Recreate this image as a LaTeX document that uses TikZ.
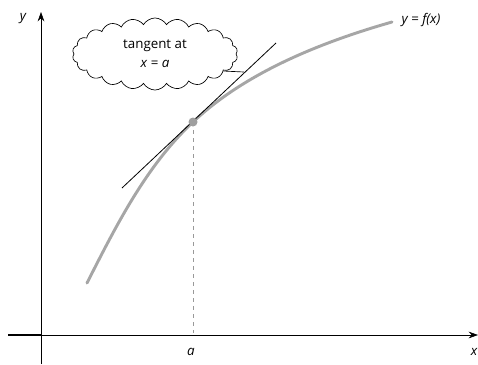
\documentclass[tikz,border=0pt]{standalone}
\usepackage{fontspec}
\setmainfont{Open Sans}
\usetikzlibrary{arrows.meta, shapes.symbols, positioning}

\begin{document}
\begin{tikzpicture}[x=0.75pt, y=-0.75pt,
  axis/.style={line width=0.5pt, -{Stealth[length=7pt, width=5pt]}},
  curve/.style={line width=2.2pt, draw=gray!70, line cap=round},
  tangentline/.style={line width=0.6pt},
  guide/.style={gray!80, dashed, line width=0.4pt},
  lbl/.style={font=\normalsize\itshape, inner sep=1pt},
  bubble/.style={cloud, cloud puffs=22, cloud puff arc=120, cloud ignores aspect, draw, line width=0.5pt, align=center, font=\normalsize, inner sep=-2pt, minimum width=124pt, minimum height=54pt}
]
\useasboundingbox (0,0) rectangle (478,364);
% axes
\coordinate (xstart) at (8,335);
\coordinate (xend) at (478,335);
\coordinate (ystart) at (41,364);
\coordinate (yend) at (41,12);
\coordinate (origin) at (41,335);
\draw[axis] (xstart) -- (xend);
\draw[line width=1.3pt] (xstart) -- (origin);
\draw[axis] (ystart) -- (yend);
\node[lbl] (ylab) at (23,19) {y};
\node[lbl] (xlab) at (474,352) {x};
% point of contact
\coordinate (P) at (193,122);
\coordinate (Pfoot) at (193,333);
\node[lbl] (alab) at (191,352) {a};
\draw[guide] (P) -- (Pfoot);
% curve y = f(x)
\coordinate (cstart) at (87,283);
\coordinate (cend) at (392,22);
\draw[curve] (cstart) .. controls (116,226) and (146,166) .. (P)
  .. controls (246,72) and (322,42) .. (cend);
\node[lbl, anchor=west] (flab) at (400,20) {y = f(x)};
% tangent line
\coordinate (t1) at (122,188);
\coordinate (t2) at (276,43);
\draw[tangentline] (t1) -- (t2);
\fill[gray!75] (P) circle (4.5);
% callout
\node[bubble] (note) at (155,54) {tangent at\\[2pt]\textit{x} = \textit{a}};
\coordinate (tip) at (244,72);
\draw[line width=0.5pt] (note.-14) -- (tip);
\end{tikzpicture}
\end{document}
